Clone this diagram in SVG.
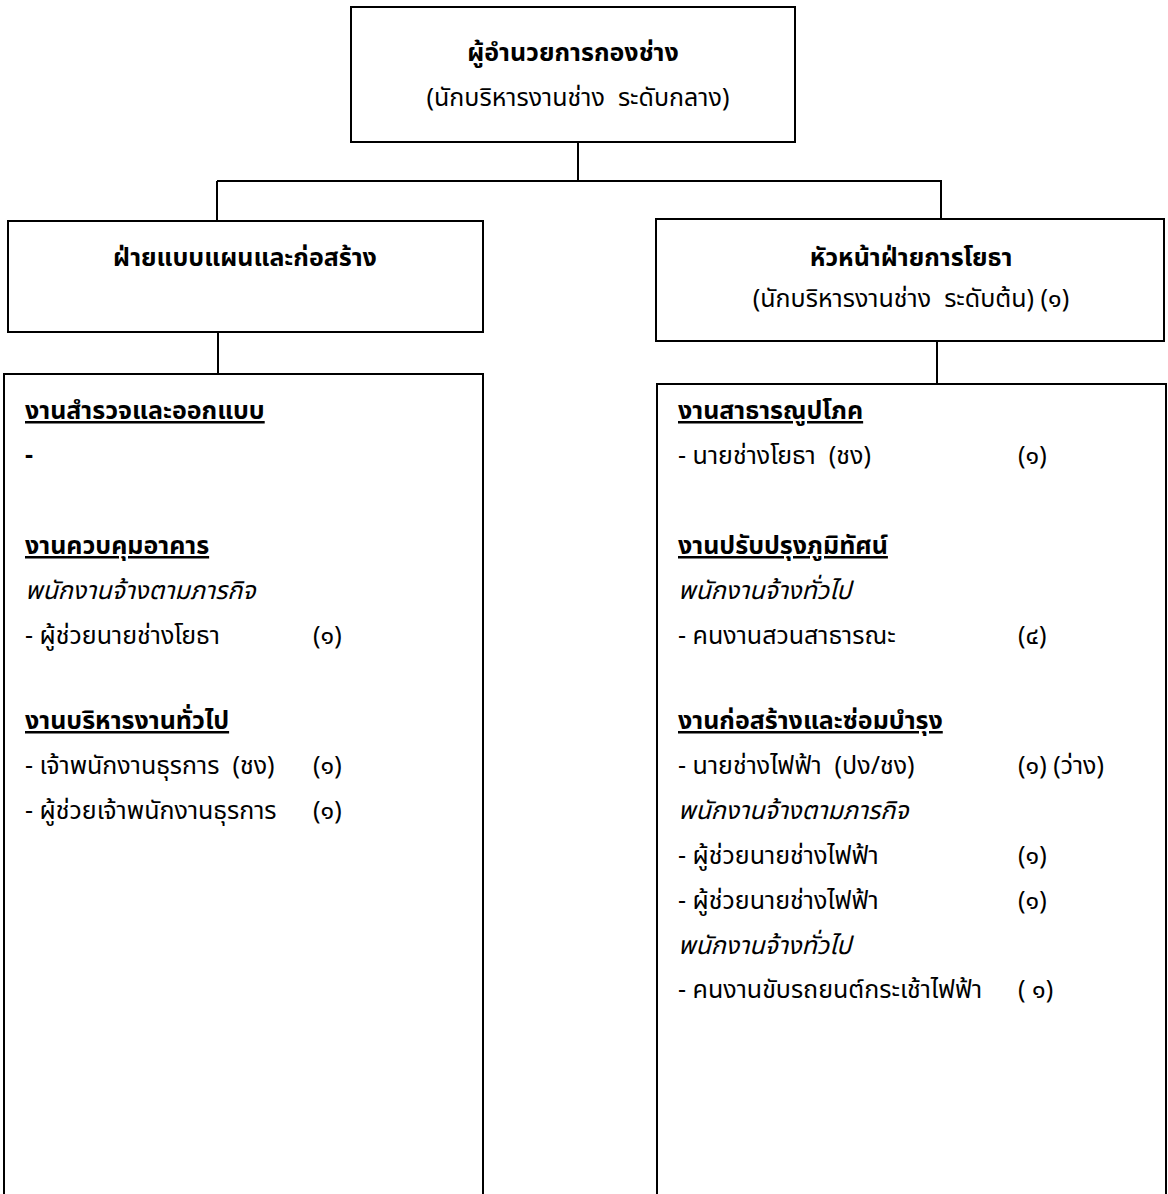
<svg xmlns="http://www.w3.org/2000/svg" width="1168" height="1194" viewBox="0 0 1168 1194">
<style>
.box{fill:#fff;stroke:#000;stroke-width:2}
.ln{stroke:#000;stroke-width:2;fill:none}
text{font-family:"Noto Sans Thai","Noto Sans","DejaVu Sans",sans-serif;font-size:25px;fill:#000}
.b{font-weight:bold}
.c{text-anchor:middle}
.u{font-weight:bold;text-decoration:underline}
.i{font-style:italic}
</style>
<rect width="1168" height="1194" fill="#fff"/>
<g id="connectors">
<line class="ln" x1="578" y1="142" x2="578" y2="181"/>
<line class="ln" x1="217" y1="181" x2="942" y2="181"/>
<line class="ln" x1="217" y1="181" x2="217" y2="221"/>
<line class="ln" x1="941" y1="181" x2="941" y2="219"/>
<line class="ln" x1="218" y1="332" x2="218" y2="374"/>
<line class="ln" x1="937" y1="341" x2="937" y2="384"/>
</g>
<g id="director">
<rect class="box" x="351" y="7" width="444" height="135"/>
<text class="c b" x="573" y="61">ผู้อำนวยการกองช่าง</text>
<text class="c" x="578" y="106">(นักบริหารงานช่าง &#160;ระดับกลาง)</text>
</g>
<g id="design">
<rect class="box" x="8" y="221" width="475" height="111"/>
<text class="c b" x="245" y="266">ฝ่ายแบบแผนและก่อสร้าง</text>
</g>
<g id="civil">
<rect class="box" x="656" y="219" width="508" height="122"/>
<text class="c b" x="911" y="266">หัวหน้าฝ่ายการโยธา</text>
<text class="c" x="911" y="307">(นักบริหารงานช่าง &#160;ระดับต้น) (๑)</text>
</g>
<g id="design-units">
<rect class="box" x="4" y="374" width="479" height="900"/>
<text class="u" x="25" y="419">งานสำรวจและออกแบบ</text>
<text class="b" x="25" y="463">-</text>
<text class="u" x="25" y="554">งานควบคุมอาคาร</text>
<text class="i" x="25" y="599">พนักงานจ้างตามภารกิจ</text>
<text x="25" y="644">- ผู้ช่วยนายช่างโยธา</text><text x="313" y="644">(๑)</text>
<text class="u" x="25" y="729">งานบริหารงานทั่วไป</text>
<text x="25" y="774">- เจ้าพนักงานธุรการ &#160;(ชง)</text><text x="313" y="774">(๑)</text>
<text x="25" y="819">- ผู้ช่วยเจ้าพนักงานธุรการ</text><text x="313" y="819">(๑)</text>
</g>
<g id="civil-units">
<rect class="box" x="657" y="384" width="509" height="900"/>
<text class="u" x="678" y="419">งานสาธารณูปโภค</text>
<text x="678" y="464">- นายช่างโยธา &#160;(ชง)</text><text x="1018" y="464">(๑)</text>
<text class="u" x="678" y="554">งานปรับปรุงภูมิทัศน์</text>
<text class="i" x="678" y="599">พนักงานจ้างทั่วไป</text>
<text x="678" y="644">- คนงานสวนสาธารณะ</text><text x="1018" y="644">(๔)</text>
<text class="u" x="678" y="729">งานก่อสร้างและซ่อมบำรุง</text>
<text x="678" y="774">- นายช่างไฟฟ้า &#160;(ปง/ชง)</text><text x="1018" y="774">(๑) (ว่าง)</text>
<text class="i" x="678" y="819">พนักงานจ้างตามภารกิจ</text>
<text x="678" y="864">- ผู้ช่วยนายช่างไฟฟ้า</text><text x="1018" y="864">(๑)</text>
<text x="678" y="909">- ผู้ช่วยนายช่างไฟฟ้า</text><text x="1018" y="909">(๑)</text>
<text class="i" x="678" y="954">พนักงานจ้างทั่วไป</text>
<text x="678" y="998">- คนงานขับรถยนต์กระเช้าไฟฟ้า</text><text x="1018" y="998">( ๑)</text>
</g>
</svg>
